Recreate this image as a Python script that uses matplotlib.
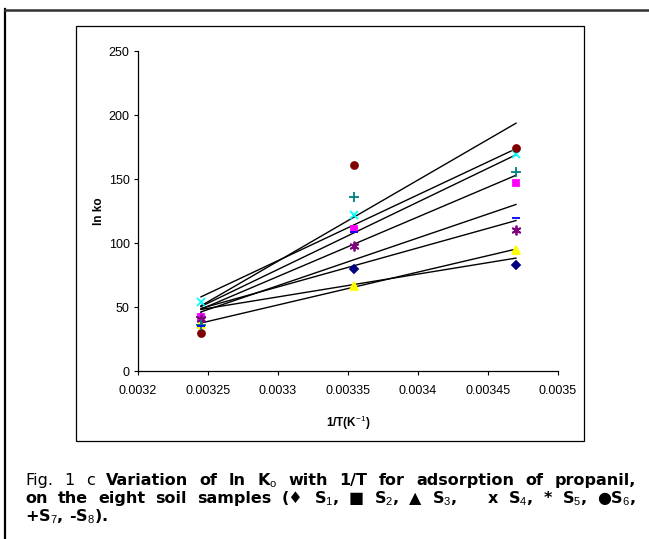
import numpy as np
import matplotlib
matplotlib.use("Agg")
import matplotlib.pyplot as plt
from matplotlib.patches import Rectangle
from matplotlib.lines import Line2D

plt.rcParams['font.family'] = ['Liberation Sans', 'DejaVu Sans']
plt.rcParams['mathtext.fontset'] = 'custom'
plt.rcParams['mathtext.rm'] = 'Liberation Sans'
plt.rcParams['mathtext.it'] = 'Liberation Sans'
plt.rcParams['mathtext.bf'] = 'Liberation Sans:bold'
plt.rcParams['mathtext.default'] = 'rm'

# 1/T (K^-1) for 308, 298, 288 K
inv_T = [0.003245, 0.003354, 0.00347]

# ln Ko for the eight soil samples
S1 = [42.0, 79.3, 82.5]
S2 = [42.0, 111.2, 147.0]
S3 = [37.0, 66.4, 94.8]
S4 = [53.7, 122.2, 169.7]
S5 = [41.0, 97.5, 110.1]
S6 = [30.0, 160.7, 173.9]
S7 = [36.0, 135.7, 155.4]
S8 = [35.0, 108.5, 119.6]

series = [S1, S2, S3, S4, S5, S6, S7, S8]
colors = ['#000080', '#FF00FF', '#FFFF00', '#00FFFF', '#800080', '#800000', '#008080', '#0000FF']
markers = ['D', 's', '^', 'x', (6, 2, 0), 'o', '+', '_']
msizes = [4.5, 5, 5.5, 6, 7, 5, 7, 6]

xticks = [0.0032, 0.00325, 0.0033, 0.00335, 0.0034, 0.00345, 0.0035]
xticklabels = ['0.0032', '0.00325', '0.0033', '0.00335', '0.0034', '0.00345', '0.0035']
yticks = [0, 50, 100, 150, 200, 250]

W, H = 649, 539
fig = plt.figure(figsize=(W / 100, H / 100), dpi=100)


def fx(x):
    return x / W


def fy(y):
    return 1 - y / H


# outer frame (only left and top visible) and inner chart box
fig.add_artist(Line2D([fx(5), fx(5)], [fy(9), fy(545)], color='black', lw=1.6))
fig.add_artist(Line2D([fx(5), fx(655)], [fy(9.5), fy(9.5)], color='#333333', lw=1.8))
fig.add_artist(Rectangle((fx(76), fy(441)), fx(584 - 76), (441 - 26) / H,
                         fill=False, ec='black', lw=0.9))

ax = fig.add_axes([fx(138), fy(371), 420 / W, 320 / H])

for ys, c, m, ms in zip(series, colors, markers, msizes):
    k, b = np.polyfit(inv_T, ys, 1)
    xs = np.array([inv_T[0], inv_T[-1]])
    ax.plot(xs, k * xs + b, color='black', lw=1.0, zorder=2)
    ax.plot(inv_T, ys, linestyle='none', marker=m, color=c, ms=ms, mew=1.3, zorder=3)

ax.set_xlim(0.0032, 0.0035)
ax.set_ylim(0, 250)
ax.set_xticks(xticks)
ax.set_xticklabels(xticklabels)
ax.set_yticks(yticks)
ax.tick_params(direction='out', length=3, width=0.8, labelsize=9, pad=3)
ax.tick_params(axis='x', pad=7)
for s in ['top', 'right']:
    ax.spines[s].set_visible(False)
for s in ['left', 'bottom']:
    ax.spines[s].set_linewidth(0.9)

ax.set_ylabel('ln ko', fontsize=8.5, fontweight='bold')
ax.yaxis.set_label_coords(-0.078, 0.5)
ax.set_xlabel('1/T(K$^{-1}$)', fontsize=8.5, fontweight='bold', va='center')
ax.xaxis.set_label_coords(0.5, -0.1625)

# caption, justified like the original
cap_fs = 11.5
cap_family = ['DejaVu Sans']
line1 = [('Fig.', 'normal'), ('1', 'normal'), ('c', 'normal'), ('Variation', 'bold'),
         ('of', 'bold'), ('ln', 'bold'), ('K$_o$', 'bold'), ('with', 'bold'), ('1/T', 'bold'),
         ('for', 'bold'), ('adsorption', 'bold'), ('of', 'bold'), ('propanil,', 'bold')]
line2 = [('on', 'bold'), ('the', 'bold'), ('eight', 'bold'), ('soil', 'bold'),
         ('samples', 'bold'), ('(\u2666', 'bold'), ('S$_1$,', 'bold'), ('\u25a0', 'bold'),
         ('S$_2$,', 'bold'), ('\u25b2', 'bold'), ('S$_3$,', 'bold'), ('', 'bold'), ('', 'bold'),
         ('x', 'bold'), ('S$_4$,', 'bold'), ('*', 'bold'), ('S$_5$,', 'bold'),
         ('\u25cfS$_6$,', 'bold')]
line3 = [('+S$_7$,', 'bold'), ('-S$_8$).', 'bold')]

renderer = fig.canvas.get_renderer()


def caption_line(tokens, ybase, x0=25, x1=636, justify=True):
    texts = [fig.text(0, fy(ybase), s, fontsize=cap_fs, fontweight=w, va='baseline',
                      family=cap_family) for s, w in tokens]
    widths = [t.get_window_extent(renderer).width if s else 0 for t, (s, w) in zip(texts, tokens)]
    if justify:
        gap = (x1 - x0 - sum(widths)) / (len(texts) - 1)
    else:
        gap = 5.5
    x = x0
    for t, w in zip(texts, widths):
        t.set_x(fx(x))
        x += w + gap


caption_line(line1, 485)
caption_line(line2, 503)
caption_line(line3, 521, justify=False)

fig.savefig('out.png', dpi=100)
